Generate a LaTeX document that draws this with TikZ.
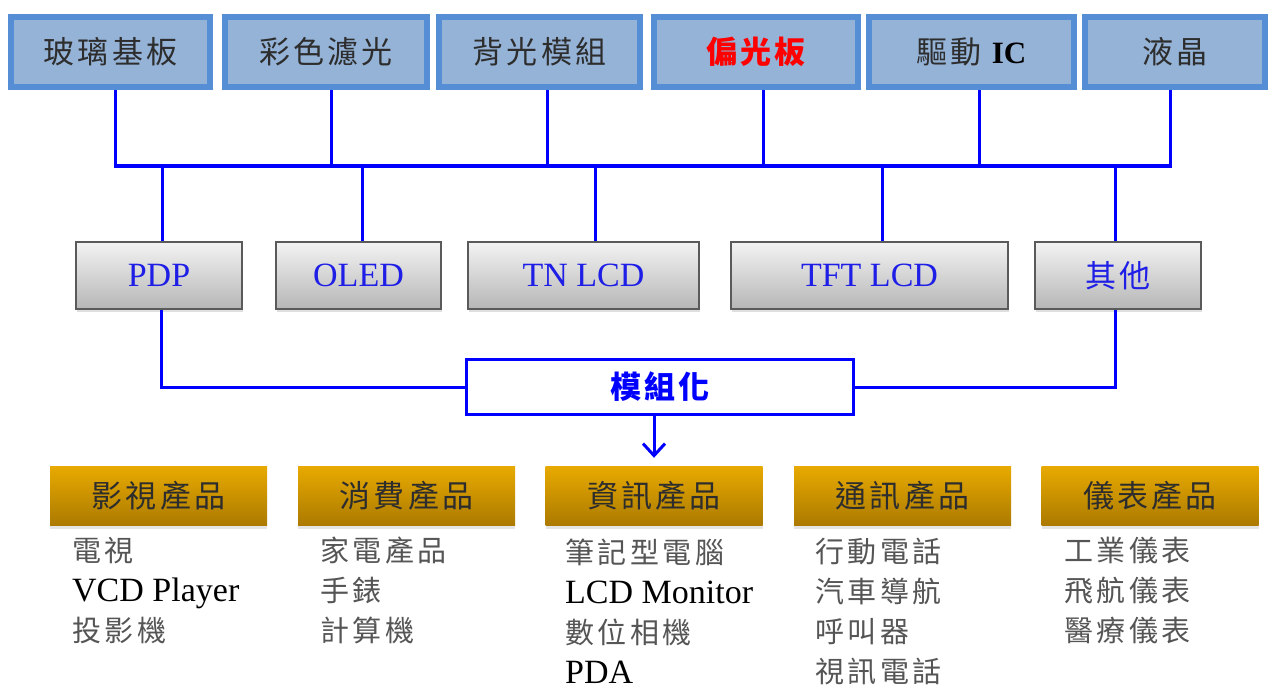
\documentclass[tikz,border=0pt]{standalone}
\usepackage{fontspec}
\setmainfont{Liberation Serif}
\newfontfamily\cjk[LetterSpace=10]{Noto Sans CJK TC}
\newfontfamily\cjklist[LetterSpace=12]{Noto Sans CJK TC}
\usetikzlibrary{arrows.meta,shadows}
\definecolor{materialedge}{RGB}{85,142,213}
\definecolor{materialfill}{RGB}{149,179,215}
\definecolor{materialtext}{RGB}{45,45,45}
\definecolor{polarizer}{RGB}{255,0,0}
\definecolor{link}{RGB}{0,0,255}
\definecolor{paneltext}{RGB}{30,30,230}
\definecolor{paneledge}{RGB}{90,90,90}
\definecolor{paneltop}{RGB}{243,243,243}
\definecolor{panelbottom}{RGB}{182,182,182}
\definecolor{producttop}{RGB}{232,170,0}
\definecolor{productbottom}{RGB}{172,122,0}
\definecolor{itemtext}{RGB}{85,85,85}
\newcommand{\eng}[1]{{\rmfamily\fontsize{34}{40}\selectfont\color{black}#1}}

\begin{document}
\begin{tikzpicture}[x=1pt, y=-1pt]
            \useasboundingbox[fill=white] (0,0) rectangle (1269,690);
            \tikzstyle{material} = [draw=materialedge, line width=6pt, fill=materialfill,
                minimum height=70pt, inner sep=0pt, text=materialtext,
                font=\cjk\fontsize{31}{33}\selectfont]
            \tikzstyle{panel} = [draw=paneledge, line width=1.5pt, top color=paneltop,
                bottom color=panelbottom, minimum height=67pt, inner sep=0pt, text=paneltext,
                font=\fontsize{34}{36}\selectfont,
                drop shadow={shadow xshift=1pt, shadow yshift=-3pt, opacity=0.25}]
            \tikzstyle{product} = [top color=producttop, bottom color=productbottom,
                minimum width=217pt, minimum height=59pt, inner sep=0pt, text=materialtext,
                font=\cjk\fontsize{31}{33}\selectfont,
                drop shadow={shadow xshift=0pt, shadow yshift=-4pt, opacity=0.2}]
            \tikzstyle{items} = [anchor=north west, align=left, inner sep=0pt, text=itemtext,
                font=\cjklist\fontsize{29}{40}\selectfont]
            \tikzstyle{wire} = [draw=link, line width=3pt]

            \node[material, minimum width=199pt] (glass) at (110.5, 52) {玻璃基板};
            \node[material, minimum width=202pt] (filter) at (326, 52) {彩色濾光};
            \node[material, minimum width=201pt] (backlight) at (539.5, 52) {背光模組};
            \node[material, minimum width=204pt, text=polarizer, font=\cjk\bfseries\fontsize{31}{33}\selectfont]
                (polarizer) at (756, 52) {偏光板};
            \node[material, minimum width=205pt] (driver) at (971.5, 52)
                {驅動 {\rmfamily\bfseries\fontsize{31}{33}\selectfont\color{black}IC}};
            \node[material, minimum width=180pt] (crystal) at (1175, 52) {液晶};

            \coordinate (bus) at (640, 166);
            \draw[wire] ([xshift=4.5pt]glass.south) |- (bus) -| ([xshift=-5pt]crystal.south);
            \foreach \name/\dx in {filter/5, backlight/7.5, polarizer/7, driver/7.5}
                \draw[wire] ([xshift=\dx pt]\name.south) -- ([xshift=\dx pt]\name.south |- bus);

            \node[panel, minimum width=166pt] (pdp) at (159, 275.5) {PDP};
            \node[panel, minimum width=165pt] (oled) at (358.5, 275.5) {OLED};
            \node[panel, minimum width=231pt] (tn) at (583.5, 275.5) {TN LCD};
            \node[panel, minimum width=277pt] (tft) at (869.5, 275.5) {TFT LCD};
            \node[panel, minimum width=166pt] (other) at (1118, 275.5) {\cjk\fontsize{31}{33}\selectfont 其他};
            \foreach \name/\dx in {pdp/3, oled/3.5, tn/11.5, tft/12.5, other/-3}
                \draw[wire] ([xshift=\dx pt]\name.north |- bus) -- ([xshift=\dx pt]\name.north);

            \node[draw=link, line width=3pt, fill=white, minimum width=387pt, minimum height=55pt,
                inner sep=0pt, text=link, font=\cjk\bfseries\fontsize{31}{33}\selectfont]
                (module) at (660, 387) {模組化};
            \draw[wire] ([xshift=2pt]pdp.south) |- (module.west);
            \draw[wire] ([xshift=-3pt]other.south) |- (module.east);

            \foreach \name/\x/\label in {video/158.5/影視產品, consumer/406.5/消費產品,
                info/654/資訊產品, comm/902.5/通訊產品, meter/1150/儀表產品}
                \node[product] (\name) at (\x, 495.5) {\label};
            \draw[wire, -{Straight Barb[length=12pt, width=22pt]}]
                (module.south -| info.north) -- ([yshift=8pt]info.north);

            \node[items] (videolist) at (72, 537) {電視\\\eng{VCD Player}\\投影機};
            \node[items] (consumerlist) at (320, 537) {家電產品\\手錶\\計算機};
            \node[items] (infolist) at (565, 539) {筆記型電腦\\\eng{LCD Monitor}\\數位相機\\\eng{PDA}};
            \node[items] (commlist) at (815, 538) {行動電話\\汽車導航\\呼叫器\\視訊電話};
            \node[items] (meterlist) at (1064, 537) {工業儀表\\飛航儀表\\醫療儀表};
\end{tikzpicture}
\end{document}
